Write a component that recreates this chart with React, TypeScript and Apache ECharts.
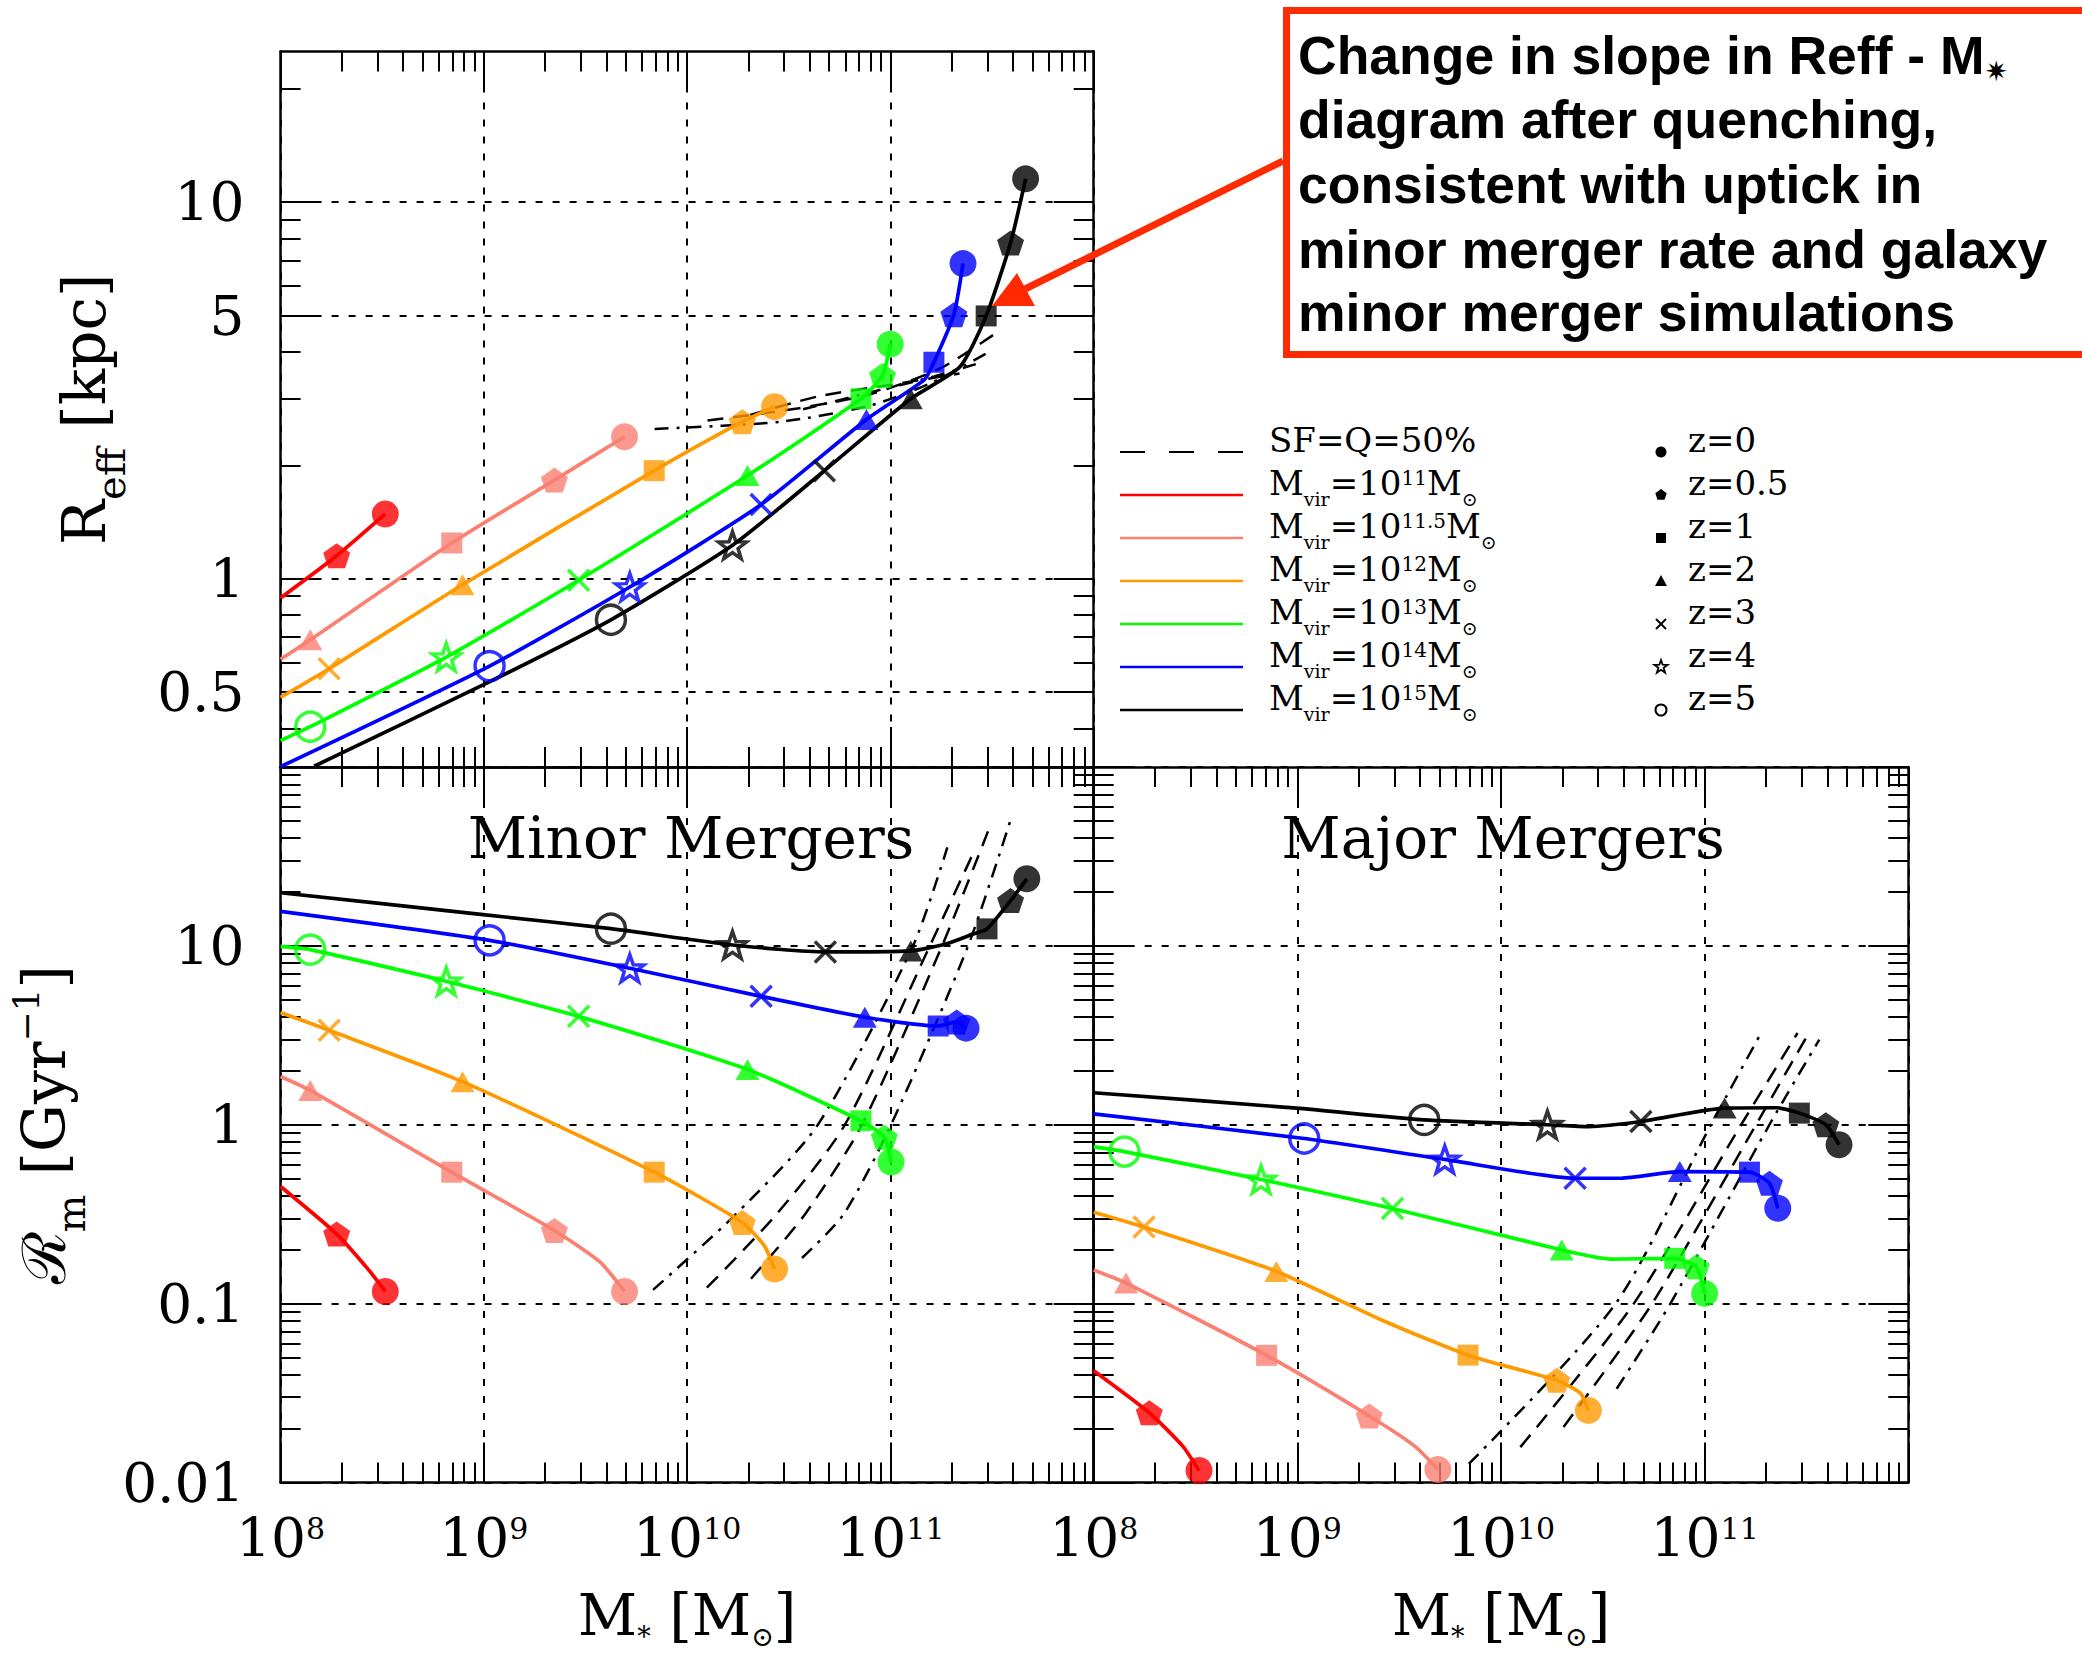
import React, { useEffect, useRef } from 'react';
import * as echarts from 'echarts';

const SERIF = "'DejaVu Serif', 'Liberation Serif', serif";
const SANS = "'Liberation Sans', Arial, Helvetica, sans-serif";
const RED = '#FF2A00';

// ---------------- tick positions ----------------
const X_MAJOR = [1e8, 1e9, 1e10, 1e11, 1e12];
const X_LABELS = [1e8, 1e9, 1e10, 1e11];
const REFF_MAJOR = [0.5, 1, 5, 10];
const REFF_MINOR = [0.4, 0.6, 0.7, 0.8, 0.9, 2, 3, 4, 6, 7, 8, 9, 20];
const RATE_MAJOR = [0.01, 0.1, 1, 10, 100];
const RATE_LABELS = [0.01, 0.1, 1, 10];
function decadeMinors(lo: number, hi: number) {
  const out: number[] = [];
  for (let d = lo; d < hi; d++) for (let k = 2; k <= 9; k++) out.push(Number((k * Math.pow(10, d)).toPrecision(3)));
  return out;
}
const X_MINOR = decadeMinors(8, 12);
const RATE_MINOR = decadeMinors(-2, 2);

// ---------------- legend / categories ----------------
const HALO_EXP = ['11', '11.5', '12', '13', '14', '15'];
const HALO_COLORS = ['#FF0000', '#FA8072', '#FF9900', '#00FF00', '#0000FF', '#000000'];
const Z_LABELS = ['0', '0.5', '1', '2', '3', '4', '5'];

// ---------------- data: [log10 M*, log10 value, z index] ----------------
// z index: 0->z=0, 1->z=0.5, 2->z=1, 3->z=2, 4->z=3, 5->z=4, 6->z=5
// Top panel: R_eff [kpc]
const reffRed = [[8.276, 0.061, 1], [8.515, 0.172, 0]];
const reffRedLine = [[8.0, -0.051]];
const reffSalmon = [[8.146, -0.162, 3], [8.842, 0.095, 2], [9.347, 0.262, 1], [9.692, 0.377, 0]];
const reffSalmonLine = [[8.0, -0.214]];
const reffOrange = [[8.239, -0.239, 4], [8.895, -0.016, 3], [9.838, 0.287, 2], [10.271, 0.417, 1], [10.43, 0.457, 0]];
const reffOrangeLine = [[8.0, -0.315]];
const reffGreen = [[8.146, -0.393, 6], [8.815, -0.208, 5], [9.466, -0.004, 4], [10.297, 0.274, 3], [10.855, 0.478, 2], [10.961, 0.54, 1], [10.999, 0.623, 0]];
const reffGreenLine = [[8.0, -0.43]];
const reffBlue = [[9.028, -0.232, 6], [9.718, -0.022, 5], [10.364, 0.197, 4], [10.882, 0.423, 3], [11.214, 0.575, 2], [11.312, 0.701, 1], [11.357, 0.837, 0]];
const reffBlueLine = [[8.0, -0.499], [11.166, 0.528]];
const reffBlack = [[9.625, -0.109, 6], [10.223, 0.089, 5], [10.675, 0.287, 4], [11.1, 0.478, 3], [11.471, 0.698, 2], [11.591, 0.892, 1], [11.665, 1.062, 0]];
const reffBlackLine = [[8.165, -0.498], [8.996, -0.282], [11.342, 0.563]];
const reffSfA = [[9.84, 0.398], [10.46, 0.417], [10.9, 0.46], [11.2, 0.52], [11.5, 0.607]];
const reffSfB = [[10.1, 0.42], [10.55, 0.453], [10.9, 0.49], [11.25, 0.56], [11.54, 0.66]];
const reffSfC = [[10.31, 0.435], [10.65, 0.485], [11.0, 0.515], [11.34, 0.545]];
const reffSfD = [[10.57, 0.45], [10.9, 0.495], [11.2, 0.535], [11.42, 0.57]];

// Bottom-left: minor merger rate [Gyr^-1]
const minorRed = [[8.276, -0.611, 1], [8.515, -0.932, 0]];
const minorRedLine = [[8.0, -0.345], [8.43, -0.807]];
const minorSalmon = [[8.146, 0.192, 3], [8.842, -0.265, 2], [9.347, -0.591, 1], [9.692, -0.932, 0]];
const minorSalmonLine = [[8.0, 0.27], [9.572, -0.768]];
const minorOrange = [[8.239, 0.528, 4], [8.895, 0.241, 3], [9.838, -0.265, 2], [10.271, -0.546, 1], [10.43, -0.807, 0]];
const minorOrangeLine = [[8.0, 0.627], [10.38, -0.677]];
const minorGreen = [[8.146, 0.979, 6], [8.815, 0.802, 5], [9.466, 0.606, 4], [10.297, 0.309, 3], [10.855, 0.022, 2], [10.97, -0.07, 1], [11.003, -0.208, 0]];
const minorGreenLine = [[8.0, 0.997]];
const minorBlue = [[9.028, 1.031, 6], [9.718, 0.875, 5], [10.364, 0.718, 4], [10.874, 0.601, 3], [11.235, 0.552, 2], [11.326, 0.575, 1], [11.372, 0.54, 0]];
const minorBlueLine = [[8.0, 1.193]];
const minorBlack = [[9.625, 1.096, 6], [10.223, 1.005, 5], [10.68, 0.966, 4], [11.1, 0.972, 3], [11.475, 1.095, 2], [11.591, 1.253, 1], [11.671, 1.375, 0]];
const minorBlackLine = [[8.0, 1.297], [8.996, 1.175], [11.276, 1.012], [11.406, 1.066]];
const minorSfA = [[9.832, -0.923], [10.24, -0.5], [10.643, 0.0], [11.111, 1.0], [11.28, 1.55]];
const minorSfB = [[10.097, -0.911], [10.44, -0.5], [10.776, 0.0], [11.194, 1.0], [11.4, 1.5]];
const minorSfC = [[10.314, -0.861], [10.58, -0.5], [10.86, 0.0], [11.254, 1.0], [11.48, 1.64]];
const minorSfD = [[10.565, -0.745], [10.77, -0.5], [11.003, 0.0], [11.382, 1.0], [11.59, 1.7]];

// Bottom-right: major merger rate [Gyr^-1]
const majorRed = [[8.273, -1.61, 1], [8.517, -1.933, 0]];
const majorRedLine = [[8.0, -1.375], [8.438, -1.798]];
const majorSalmon = [[8.159, -0.885, 3], [8.849, -1.289, 2], [9.353, -1.628, 1], [9.69, -1.928, 0]];
const majorSalmonLine = [[8.0, -0.812], [9.578, -1.798]];
const majorOrange = [[8.247, -0.572, 4], [8.897, -0.82, 3], [9.838, -1.288, 2], [10.274, -1.429, 1], [10.429, -1.597, 0]];
const majorOrangeLine = [[8.0, -0.489], [9.419, -1.094], [10.39, -1.5]];
const majorGreen = [[8.151, -0.15, 6], [8.822, -0.306, 5], [9.467, -0.468, 4], [10.298, -0.7, 3], [10.853, -0.747, 2], [10.959, -0.794, 1], [11.0, -0.943, 0]];
const majorGreenLine = [[8.0, -0.124], [10.543, -0.751]];
const majorBlue = [[9.034, -0.077, 6], [9.724, -0.194, 5], [10.364, -0.299, 4], [10.878, -0.262, 3], [11.22, -0.265, 2], [11.318, -0.327, 1], [11.359, -0.467, 0]];
const majorBlueLine = [[8.0, 0.061], [10.59, -0.299]];
const majorBlack = [[9.623, 0.027, 6], [10.228, 0.0, 5], [10.687, 0.018, 4], [11.098, 0.093, 3], [11.465, 0.065, 2], [11.595, 0.0, 1], [11.66, -0.112, 0]];
const majorBlackLine = [[8.0, 0.179], [8.995, 0.093], [10.43, -0.01], [11.355, 0.095]];
const majorSfA = [[9.842, -1.896], [10.56, -1.005], [11.031, 0.0], [11.277, 0.513]];
const majorSfB = [[10.095, -1.802], [10.649, -1.005], [11.179, 0.0], [11.456, 0.513]];
const majorSfC = [[10.307, -1.69], [10.739, -1.005], [11.252, 0.0], [11.5, 0.49]];
const majorSfD = [[10.568, -1.476], [10.829, -1.005], [11.318, 0.0], [11.563, 0.476]];

const PANELS = [
  {
    marks: [reffRed, reffSalmon, reffOrange, reffGreen, reffBlue, reffBlack],
    lines: [reffRedLine, reffSalmonLine, reffOrangeLine, reffGreenLine, reffBlueLine, reffBlackLine],
    sf: [reffSfA, reffSfB, reffSfC, reffSfD],
  },
  {
    marks: [minorRed, minorSalmon, minorOrange, minorGreen, minorBlue, minorBlack],
    lines: [minorRedLine, minorSalmonLine, minorOrangeLine, minorGreenLine, minorBlueLine, minorBlackLine],
    sf: [minorSfA, minorSfB, minorSfC, minorSfD],
  },
  {
    marks: [majorRed, majorSalmon, majorOrange, majorGreen, majorBlue, majorBlack],
    lines: [majorRedLine, majorSalmonLine, majorOrangeLine, majorGreenLine, majorBlueLine, majorBlackLine],
    sf: [majorSfA, majorSfB, majorSfC, majorSfD],
  },
];

const ANNOTATION = [
  'Change in slope in Reff - M',
  'diagram after quenching,',
  'consistent with uptick in',
  'minor merger rate and galaxy',
  'minor merger simulations',
];

// ---------------- styling ----------------
const PENTAGON = 'path://M0,-100L95.1,-30.9L58.8,80.9L-58.8,80.9L-95.1,-30.9Z';
const STAR = 'path://M0,-100L23.5,-32.4L95.1,-30.9L38,12.4L58.8,80.9L0,40L-58.8,80.9L-38,12.4L-95.1,-30.9L-23.5,-32.4Z';
const CROSS = 'path://M0,0L100,100M100,0L0,100';
const Z_SYMBOLS: any[] = [
  { symbol: 'circle', size: 27, open: false },
  { symbol: PENTAGON, size: [27, 25], open: false },
  { symbol: 'rect', size: 21, open: false },
  { symbol: 'triangle', size: [24, 21], open: false },
  { symbol: CROSS, size: 21, open: true },
  { symbol: STAR, size: [28, 27], open: true },
  { symbol: 'circle', size: 29, open: true },
];
const SF_DASH: any[] = [[14, 8, 3, 8], [16, 10], [16, 10], [14, 8, 3, 8]];

const GRIDS = [
  { left: 280.6, top: 51.6, width: 813.1, height: 715.4 },
  { left: 280.6, top: 767, width: 813.1, height: 715.5 },
  { left: 1093.7, top: 767, width: 814.6, height: 715.5 },
];

const lineSt = { color: '#000', width: 2.5 };
const tickSt = { color: '#000', width: 2 };
const gridSt = { color: '#000', width: 2, type: [7, 10] as any };

const X_NAME = '{m|M}{s|*}{m| [M}{s|⊙}{m|]}';
const NAME_RICH_X = {
  m: { fontSize: 58, fontFamily: SERIF, lineHeight: 60, verticalAlign: 'middle', color: '#000' },
  s: { fontSize: 27, fontFamily: SERIF, height: 16, verticalAlign: 'bottom', color: '#000' },
};

function xAxes(g: number, labels: boolean) {
  const base = { type: 'log', logBase: 10, gridIndex: g, min: 1e8, max: 1e12, minorTick: { show: false }, minorSplitLine: { show: false } };
  return [
    {
      ...base, position: 'bottom',
      axisLine: { show: true, onZero: false, lineStyle: lineSt },
      axisTick: { show: true, inside: true, length: 40, customValues: X_MAJOR, lineStyle: tickSt },
      axisLabel: {
        show: labels, customValues: X_LABELS, margin: 27,
        formatter: (v: number) => `{b|10}{s|${Math.round(Math.log10(v))}}`,
        rich: {
          b: { fontSize: 55, fontFamily: SERIF, lineHeight: 56, verticalAlign: 'middle', color: '#000' },
          s: { fontSize: 30, fontFamily: SERIF, height: 38, verticalAlign: 'top', color: '#000' },
        },
      },
      splitLine: { show: true, lineStyle: gridSt },
      name: labels ? X_NAME : '', nameLocation: 'middle', nameGap: 102,
      nameTextStyle: { rich: NAME_RICH_X },
    },
    { ...base, position: 'bottom', axisLine: { show: false, onZero: false }, axisTick: { show: true, inside: true, length: 20, customValues: X_MINOR, lineStyle: tickSt }, axisLabel: { show: false }, splitLine: { show: false } },
    { ...base, position: 'top', axisLine: { show: true, onZero: false, lineStyle: lineSt }, axisTick: { show: true, inside: true, length: 40, customValues: X_MAJOR, lineStyle: tickSt }, axisLabel: { show: false }, splitLine: { show: false } },
    { ...base, position: 'top', axisLine: { show: false, onZero: false }, axisTick: { show: true, inside: true, length: 20, customValues: X_MINOR, lineStyle: tickSt }, axisLabel: { show: false }, splitLine: { show: false } },
  ];
}

function yAxes(g: number, min: number, max: number, major: number[], minor: number[], labelVals: number[], showLabels: boolean, name: string, nameGap: number, rich: any) {
  const base = { type: 'log', logBase: 10, gridIndex: g, min, max, minorTick: { show: false }, minorSplitLine: { show: false } };
  return [
    {
      ...base, position: 'left',
      axisLine: { show: true, onZero: false, lineStyle: lineSt },
      axisTick: { show: true, inside: true, length: 40, customValues: major, lineStyle: tickSt },
      axisLabel: {
        show: showLabels, customValues: labelVals, margin: 36,
        fontSize: 55, fontFamily: SERIF, color: '#000',
        formatter: (v: number) => String(Number(v.toPrecision(3))),
      },
      splitLine: { show: true, lineStyle: gridSt },
      name, nameLocation: 'middle', nameRotate: 90, nameGap,
      nameTextStyle: { rich },
    },
    { ...base, position: 'left', axisLine: { show: false, onZero: false }, axisTick: { show: true, inside: true, length: 20, customValues: minor, lineStyle: tickSt }, axisLabel: { show: false }, splitLine: { show: false } },
    { ...base, position: 'right', axisLine: { show: true, onZero: false, lineStyle: lineSt }, axisTick: { show: true, inside: true, length: 40, customValues: major, lineStyle: tickSt }, axisLabel: { show: false }, splitLine: { show: false } },
    { ...base, position: 'right', axisLine: { show: false, onZero: false }, axisTick: { show: true, inside: true, length: 20, customValues: minor, lineStyle: tickSt }, axisLabel: { show: false }, splitLine: { show: false } },
  ];
}

const pow = (p: number[]) => [Math.pow(10, p[0]), Math.pow(10, p[1])];

function buildSeries() {
  const series: any[] = [];
  PANELS.forEach((panel, g) => {
    const ax = { xAxisIndex: g * 4, yAxisIndex: g * 4 };
    panel.sf.forEach((pts, i) => {
      series.push({
        type: 'line', ...ax, data: pts.map(pow), smooth: 0.25, showSymbol: false, symbol: 'none', silent: true, z: 2,
        lineStyle: { color: '#000', width: 2.5, type: SF_DASH[i] },
      });
    });
    panel.marks.forEach((marks, h) => {
      const color = HALO_COLORS[h];
      const pts = [...marks.map((m) => [m[0], m[1]]), ...panel.lines[h]].sort((a, b) => a[0] - b[0]).map(pow);
      series.push({
        type: 'line', ...ax, data: pts, smooth: 0.2, showSymbol: false, symbol: 'none', silent: true, z: 3,
        lineStyle: { color, width: 3.7 }, itemStyle: { color },
      });
      series.push({
        type: 'scatter', ...ax, silent: true, z: 4,
        data: marks.map((m) => {
          const s = Z_SYMBOLS[m[2]];
          return {
            value: pow(m), symbol: s.symbol, symbolSize: s.size,
            itemStyle: s.open ? { color: 'none', borderColor: color, borderWidth: 3.5 } : { color, borderWidth: 0 },
          };
        }),
      });
    });
  });
  return series;
}

function legendGraphics() {
  const els: any[] = [];
  const rows = [452, 495, 538, 581, 624, 667, 710];
  // line-style column
  els.push({ type: 'line', shape: { x1: 1120, y1: rows[0], x2: 1243, y2: rows[0] }, style: { stroke: '#000', lineWidth: 2, lineDash: [25, 24] } });
  els.push({ type: 'text', x: 1269, y: rows[0] - 12, style: { text: 'SF=Q=50%', fontSize: 34, fontFamily: SERIF, fill: '#000', align: 'left', verticalAlign: 'middle' } });
  HALO_EXP.forEach((e, i) => {
    const y = rows[i + 1];
    els.push({ type: 'line', shape: { x1: 1120, y1: y, x2: 1243, y2: y }, style: { stroke: HALO_COLORS[i], lineWidth: 2.5 } });
    els.push({
      type: 'text', x: 1269, y: y - 12,
      style: {
        text: `{m|M}{s|vir}{m|=10}{p|${e}}{m|M}{s|⊙}`, align: 'left', verticalAlign: 'middle',
        rich: {
          m: { fontSize: 34, fontFamily: SERIF, lineHeight: 38, verticalAlign: 'middle', fill: '#000' },
          s: { fontSize: 19, fontFamily: SERIF, height: 6, lineHeight: 6, verticalAlign: 'bottom', fill: '#000' },
          p: { fontSize: 20, fontFamily: SERIF, height: 28, lineHeight: 28, verticalAlign: 'top', fill: '#000' },
        },
      },
    });
  });
  // redshift marker column
  const mx = 1661;
  const poly = (pts: number[][], cx: number, cy: number, r: number) => pts.map((p) => [cx + p[0] * r, cy + p[1] * r]);
  const pent = [[0, -1], [0.951, -0.309], [0.588, 0.809], [-0.588, 0.809], [-0.951, -0.309]];
  const star = [[0, -1], [0.235, -0.324], [0.951, -0.309], [0.38, 0.124], [0.588, 0.809], [0, 0.4], [-0.588, 0.809], [-0.38, 0.124], [-0.951, -0.309], [-0.235, -0.324]];
  Z_LABELS.forEach((z, i) => {
    const y = rows[i];
    let m: any;
    if (i === 0) m = { type: 'circle', shape: { cx: mx, cy: y, r: 5.5 }, style: { fill: '#000' } };
    else if (i === 1) m = { type: 'polygon', shape: { points: poly(pent, mx, y, 6) }, style: { fill: '#000' } };
    else if (i === 2) m = { type: 'rect', shape: { x: mx - 5, y: y - 5, width: 10, height: 10 }, style: { fill: '#000' } };
    else if (i === 3) m = { type: 'polygon', shape: { points: [[mx, y - 6], [mx + 6, y + 5], [mx - 6, y + 5]] }, style: { fill: '#000' } };
    else if (i === 4) m = { type: 'group', children: [
      { type: 'line', shape: { x1: mx - 5, y1: y - 5, x2: mx + 5, y2: y + 5 }, style: { stroke: '#000', lineWidth: 2 } },
      { type: 'line', shape: { x1: mx + 5, y1: y - 5, x2: mx - 5, y2: y + 5 }, style: { stroke: '#000', lineWidth: 2 } },
    ] };
    else if (i === 5) m = { type: 'polygon', shape: { points: poly(star, mx, y, 7) }, style: { fill: 'none', stroke: '#000', lineWidth: 1.8 } };
    else m = { type: 'circle', shape: { cx: mx, cy: y, r: 5.5 }, style: { fill: 'none', stroke: '#000', lineWidth: 2 } };
    els.push(m);
    els.push({ type: 'text', x: 1688, y: y - 12, style: { text: `z=${z}`, fontSize: 34, fontFamily: SERIF, fill: '#000', align: 'left', verticalAlign: 'middle' } });
  });
  return els;
}

function annotationGraphics() {
  const els: any[] = [];
  els.push({ type: 'rect', shape: { x: 1286.5, y: 10.5, width: 900, height: 344 }, style: { fill: '#fff', stroke: RED, lineWidth: 7 } });
  const ys = [55, 119, 184, 249, 312];
  ANNOTATION.forEach((t, i) => {
    els.push({
      type: 'text', x: 1298, y: ys[i],
      style: i === 0 ? {
        text: `{t|${t}}{s|✷}`, align: 'left', verticalAlign: 'middle',
        rich: {
          t: { fontSize: 53.5, fontFamily: SANS, fontWeight: 'bold', lineHeight: 60, verticalAlign: 'middle', fill: '#000' },
          s: { fontSize: 28, fontFamily: "'DejaVu Sans', sans-serif", fontWeight: 'bold', height: 28, lineHeight: 28, verticalAlign: 'bottom', fill: '#000' },
        },
      } : { text: t, fontSize: 53.5, fontFamily: SANS, fontWeight: 'bold', fill: '#000', align: 'left', verticalAlign: 'middle' },
    });
  });
  els.push({ type: 'line', shape: { x1: 1283, y1: 161, x2: 1019, y2: 292 }, style: { stroke: RED, lineWidth: 7 } });
  els.push({ type: 'polygon', shape: { points: [[992, 306], [1017, 273], [1035, 306]] }, style: { fill: RED } });
  return els;
}

export default function App() {
  const ref = useRef<HTMLDivElement>(null);
  useEffect(() => {
    if (!ref.current) return;
    const chart = echarts.init(ref.current, null, { renderer: 'svg' });
    const yTopName = '{m|R}{s|eff}{m| [kpc]}';
    const yBotName = '{m|ℛ}{s|m}{m| [Gyr}{p|−1}{m|]}';
    const yRich = {
      m: { fontSize: 60, fontFamily: SERIF, lineHeight: 80, verticalAlign: 'middle', color: '#000' },
      s: { fontSize: 40, fontFamily: SERIF, height: 26, verticalAlign: 'bottom', color: '#000' },
      p: { fontSize: 36, fontFamily: SERIF, height: 46, verticalAlign: 'top', color: '#000' },
    };
    const option: any = {
      animation: false,
      backgroundColor: '#fff',
      grid: GRIDS.map((g) => ({ ...g, containLabel: false, outerBoundsMode: 'none' })),
      xAxis: [...xAxes(0, false), ...xAxes(1, true), ...xAxes(2, true)],
      yAxis: [
        ...yAxes(0, Math.pow(10, -0.5), Math.pow(10, 1.4), REFF_MAJOR, REFF_MINOR, REFF_MAJOR, true, yTopName, 157, yRich),
        ...yAxes(1, 0.01, 100, RATE_MAJOR, RATE_MINOR, RATE_LABELS, true, yBotName, 197, yRich),
        ...yAxes(2, 0.01, 100, RATE_MAJOR, RATE_MINOR, RATE_LABELS, false, '', 0, yRich),
      ],
      series: buildSeries(),
      graphic: [
        { type: 'text', x: 691, y: 838, z: 50, style: { text: 'Minor Mergers', fontSize: 58, fontFamily: SERIF, fill: '#000', align: 'center', verticalAlign: 'middle' } },
        { type: 'text', x: 1503, y: 838, z: 50, style: { text: 'Major Mergers', fontSize: 58, fontFamily: SERIF, fill: '#000', align: 'center', verticalAlign: 'middle' } },
        ...legendGraphics().map((e) => ({ ...e, z: 50 })),
        ...annotationGraphics().map((e) => ({ ...e, z: 60 })),
      ],
    };
    chart.setOption(option);
    return () => chart.dispose();
  }, []);
  return <div ref={ref} style={{ position: 'absolute', left: 0, top: 0, width: 2082, height: 1655, background: '#fff' }} />;
}
